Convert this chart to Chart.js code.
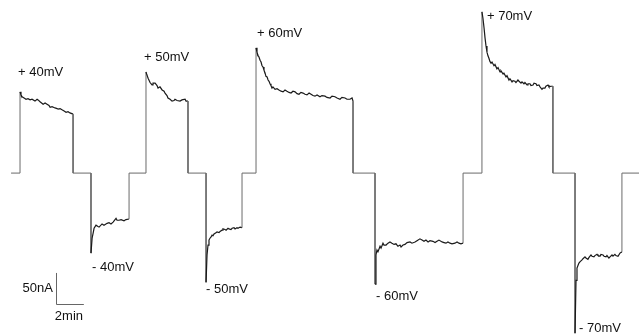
<!DOCTYPE html>
<html>
<head>
<meta charset="utf-8">
<script src="https://cdn.jsdelivr.net/npm/chart.js@4/dist/chart.umd.min.js"></script>
<style>
  body { margin: 0; background: #fff; }
  #wrap { width: 639px; height: 335px; }
</style>
</head>
<body>
<div id="wrap"><canvas id="trace" width="639" height="335"></canvas></div>
<script>
// time in min, current in nA (holding current = 0)
const traceStart = 0;
const traceEnd = 44.86;

const pulseLabels = ['+ 40mV', '- 40mV', '+ 50mV', '- 50mV', '+ 60mV', '- 60mV', '+ 70mV', '- 70mV'];

const pos40 = [[0.64,131],[0.71,126],[0.79,123],[0.93,121],[1.07,119],[1.21,120],[1.36,118],[1.5,119],[1.71,116],
  [1.86,119],[1.93,118],[2.07,115],[2.29,111],[2.43,113],[2.57,111],[2.71,109],[2.79,106],[2.93,107],[3.14,105],
  [3.29,104],[3.36,103],[3.5,104],[3.64,102],[3.79,100],[3.93,98],[4.07,99],[4.21,97],[4.43,95]];
const neg40 = [[5.71,-129],[5.79,-105],[5.86,-97],[5.93,-89],[6.07,-84],[6.21,-86],[6.29,-87],[6.5,-82],
  [6.64,-84],[6.86,-81],[7.0,-80],[7.14,-82],[7.29,-79],[7.5,-73],[7.57,-76],[7.71,-76],[7.86,-75],[8.07,-77],
  [8.21,-75],[8.43,-74]];
const pos50 = [[9.64,163],[9.71,158],[9.79,153],[9.93,146],[10.07,142],[10.14,145],[10.29,145],[10.43,141],
  [10.5,137],[10.64,139],[10.79,134],[10.93,132],[11.0,129],[11.14,125],[11.21,121],[11.36,119],[11.5,116],
  [11.64,117],[11.71,119],[11.86,117],[12.07,116],[12.21,118],[12.43,119],[12.5,116],[12.64,116]];
const neg50 = [[13.93,-176],[14.0,-132],[14.07,-116],[14.14,-108],[14.21,-105],[14.29,-103],[14.36,-100],
  [14.43,-101],[14.5,-98],[14.64,-96],[14.71,-95],[14.86,-96],[14.93,-94],[15.07,-92],[15.14,-90],[15.29,-91],
  [15.36,-92],[15.5,-89],[15.57,-90],[15.71,-91],[15.79,-89],[15.93,-88],[16.0,-90],[16.14,-88],[16.21,-89],
  [16.36,-87],[16.5,-88]];
const pos60 = [[17.5,202],[17.57,195],[17.64,190],[17.71,187],[17.79,182],[17.86,179],[17.93,173],[18.0,171],
  [18.07,166],[18.14,162],[18.21,156],[18.29,155],[18.36,150],[18.43,148],[18.5,144],[18.57,141],[18.64,137],
  [18.71,139],[18.86,135],[19.0,136],[19.14,134],[19.29,132],[19.43,131],[19.57,134],[19.71,132],[19.86,130],
  [20.0,129],[20.14,132],[20.29,131],[20.43,128],[20.57,127],[20.71,130],[20.86,129],[21.0,127],[21.14,126],
  [21.29,129],[21.43,127],[21.57,125],[21.71,124],[21.86,126],[22.07,123],[22.21,125],[22.43,124],[22.57,122],
  [22.79,121],[22.93,124],[23.14,123],[23.29,121],[23.5,119],[23.64,122],[23.86,121],[24.0,119],[24.21,119],
  [24.36,121],[24.43,116]];
const neg60 = [[26.0,-179],[26.07,-132],[26.14,-124],[26.21,-127],[26.36,-118],[26.43,-121],[26.57,-113],
  [26.64,-116],[26.79,-116],[26.93,-113],[27.07,-111],[27.21,-113],[27.36,-115],[27.5,-114],[27.64,-118],
  [27.79,-116],[27.86,-119],[28.0,-116],[28.14,-115],[28.29,-112],[28.5,-111],[28.64,-113],[28.86,-111],
  [29.0,-109],[29.21,-106],[29.36,-108],[29.5,-110],[29.64,-108],[29.79,-111],[29.93,-109],[30.14,-110],
  [30.29,-112],[30.43,-110],[30.57,-108],[30.79,-111],[30.93,-112],[31.07,-113],[31.21,-111],[31.36,-113],
  [31.5,-114],[31.71,-113],[31.86,-111],[32.0,-113],[32.14,-114],[32.29,-113]];
const pos70 = [[33.64,260],[33.71,250],[33.79,234],[33.86,218],[33.93,205],[34.0,195],[34.07,189],[34.14,185],
  [34.21,180],[34.29,177],[34.36,179],[34.5,173],[34.57,175],[34.71,168],[34.79,170],[34.93,163],[35.0,165],
  [35.14,160],[35.21,161],[35.36,155],[35.43,157],[35.57,150],[35.64,152],[35.79,147],[35.86,149],[36.0,148],
  [36.07,146],[36.21,150],[36.29,148],[36.43,145],[36.5,147],[36.64,144],[36.71,146],[36.86,142],[36.93,144],
  [37.07,144],[37.14,141],[37.29,142],[37.36,145],[37.5,144],[37.57,141],[37.71,142],[37.79,139],[37.93,135],
  [38.0,137],[38.14,137],[38.21,140],[38.36,142],[38.43,139],[38.57,140],[38.71,140]];
const neg70 = [[40.29,-258],[40.36,-173],[40.43,-153],[40.5,-149],[40.57,-145],[40.64,-143],[40.79,-140],
  [40.86,-138],[41.0,-135],[41.07,-137],[41.21,-139],[41.29,-136],[41.43,-132],[41.5,-134],[41.64,-135],
  [41.71,-133],[41.86,-131],[41.93,-133],[42.07,-134],[42.14,-131],[42.29,-132],[42.36,-134],[42.5,-135],
  [42.57,-133],[42.71,-137],[42.79,-135],[42.93,-132],[43.0,-134],[43.14,-131],[43.21,-133],[43.36,-134],
  [43.5,-129],[43.64,-127]];

const pulses = [pos40, neg40, pos50, neg50, pos60, neg60, pos70, neg70];

// scale bar: 50 nA, 2 min
const barCurrent = 50;
const barTime = 2;
const barCorner = [3.2, -211];

const points = [{ x: traceStart, y: 0 }];
pulses.forEach(p => {
    points.push({ x: p[0][0], y: 0 });
    p.forEach(([t, i]) => points.push({ x: t, y: i }));
    points.push({ x: p[p.length - 1][0], y: 0 });
});
points.push({ x: traceEnd, y: 0 });

// label offsets from the pulse onset point, px
const labelOffsets = [[-2, -19], [1, 14], [-2, -15], [0, 7], [1, -14], [1, 12], [5, 5], [4, -5]];

const isThin = c => c.p0.parsed.x === c.p1.parsed.x || (c.p0.parsed.y === 0 && c.p1.parsed.y === 0);

const annotate = {
    id: 'annotate',
    afterDatasetsDraw(chart) {
        const g = chart.ctx;
        const xs = chart.scales.x, ys = chart.scales.y;
        g.save();
        g.font = '13px "Liberation Sans", Arial, sans-serif';
        g.fillStyle = '#111';
        g.textBaseline = 'middle';
        g.textAlign = 'left';
        pulses.forEach((p, k) => {
            const px = xs.getPixelForValue(p[0][0]);
            const py = ys.getPixelForValue(p[0][1]);
            g.fillText(pulseLabels[k], px + labelOffsets[k][0], py + labelOffsets[k][1]);
        });

        const cx = xs.getPixelForValue(barCorner[0]);
        const cy = ys.getPixelForValue(barCorner[1]);
        const top = ys.getPixelForValue(barCorner[1] + barCurrent);
        const right = xs.getPixelForValue(barCorner[0] + barTime);
        g.strokeStyle = '#666';
        g.lineWidth = 1;
        g.beginPath();
        g.moveTo(Math.round(cx) + 0.5, top);
        g.lineTo(Math.round(cx) + 0.5, Math.round(cy) + 0.5);
        g.lineTo(right, Math.round(cy) + 0.5);
        g.stroke();
        g.textAlign = 'right';
        g.fillText(barCurrent + 'nA', cx - 3, (top + cy) / 2);
        g.textAlign = 'left';
        g.fillText(barTime + 'min', cx - 1, cy + 12);
        g.restore();
    }
};

new Chart(document.getElementById('trace'), {
    type: 'line',
    data: {
        datasets: [{
            data: points,
            borderColor: '#111',
            borderWidth: 1.2,
            pointRadius: 0,
            tension: 0,
            fill: false,
            clip: false,
            segment: {
                borderColor: c => isThin(c) ? '#6a6a6a' : '#1a1a1a',
                borderWidth: c => isThin(c) ? 1 : 1.2
            }
        }]
    },
    options: {
        responsive: false,
        animation: false,
        layout: { padding: 0 },
        plugins: { legend: { display: false }, tooltip: { enabled: false } },
        scales: {
            x: { type: 'linear', min: -0.79, max: 44.86, display: false },
            y: { min: -261, max: 279, display: false }
        }
    },
    plugins: [annotate]
});
</script>
</body>
</html>
